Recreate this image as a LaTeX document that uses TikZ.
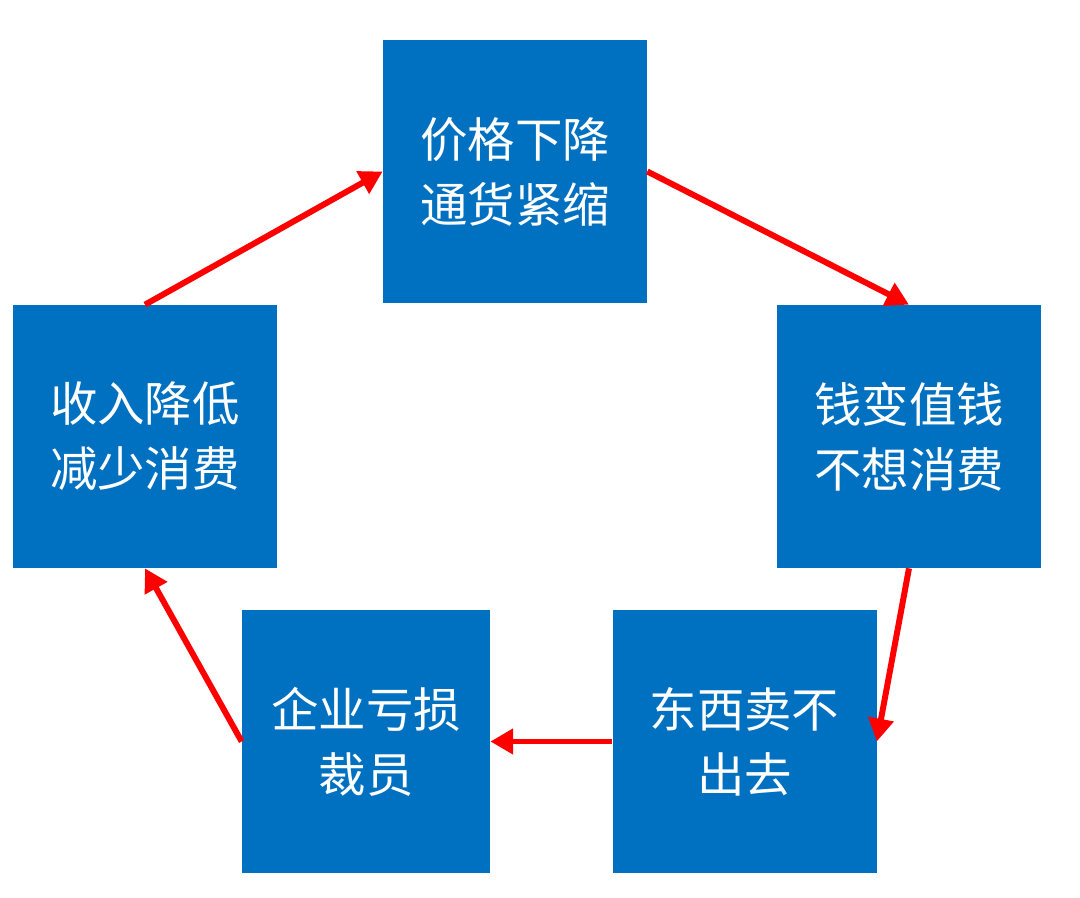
\documentclass[tikz,border=0pt]{standalone}
\usepackage{fontspec}
\newfontfamily\cjk{Noto Sans CJK SC}
\usetikzlibrary{arrows.meta}
\begin{document}
\begin{tikzpicture}[x=0.02cm,y=-0.02cm,
  box/.style={draw=none,fill={rgb,255:red,0;green,112;blue,192},text=white,minimum width=264*0.02cm,minimum height=263*0.02cm,inner sep=0pt,align=center,font=\cjk\fontsize{27}{37}\selectfont},
  arr/.style={draw={rgb,255:red,255;green,0;blue,0},line width=3.4pt,-{Triangle[length=13pt,width=14pt]}}]
\useasboundingbox[fill=white] (0,0) rectangle (1080,898);
\node[box] (T) at (515,171.5) {价格下降\\通货紧缩};
\node[box] (R) at (909,436.5) {钱变值钱\\不想消费};
\node[box] (BR) at (744.5,741.5) {东西卖不\\出去};
\node[box,minimum width=248*0.02cm] (BL) at (366,741.5) {企业亏损\\裁员};
\node[box] (L) at (145,436.5) {收入降低\\减少消费};
\draw[arr] (L.north) -- (T.west);
\draw[arr] (T.east) -- (R.north);
\draw[arr] (R.south) -- (BR.east);
\draw[arr] (BR.west) -- (BL.east);
\draw[arr] (BL.west) -- (L.south);
\end{tikzpicture}
\end{document}
